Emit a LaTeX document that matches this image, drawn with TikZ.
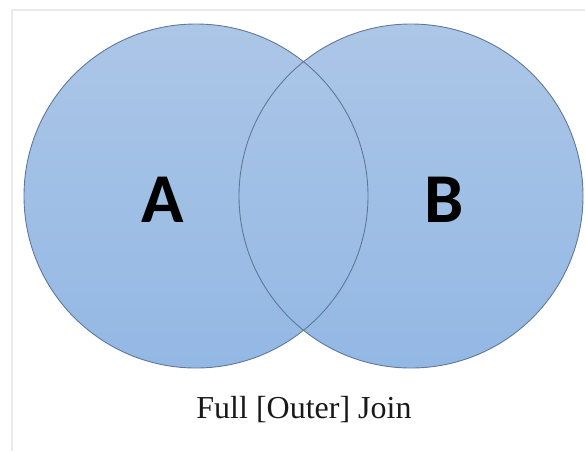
\documentclass[tikz,border=0pt]{standalone}
\usepackage{fontspec}
\setmainfont{Liberation Serif}
\newfontfamily\labelfont{Carlito}
\definecolor{setfilltop}{RGB}{172,198,231}
\definecolor{setfillbot}{RGB}{147,184,228}
\definecolor{setline}{RGB}{96,120,150}
\definecolor{frameline}{RGB}{234,234,234}
\usetikzlibrary{positioning}

\begin{document}
\begin{tikzpicture}[
    x=1pt, y=-1pt,
    setlabel/.style={font=\labelfont\bfseries\fontsize{70}{70}\selectfont,
                     text=black, inner sep=0pt},
    caption/.style={font=\fontsize{32}{36}\selectfont, text=black!90,
                    inner sep=0pt},
    frame/.style={draw=frameline, line width=1.5pt}
  ]
    \useasboundingbox (0,0) rectangle (585,451);
    % Frame
    \coordinate (fl) at (12,451);
    \coordinate (fc) at (12,10);
    \coordinate (fr) at (585,10);
    \draw[frame] (fl) -- (fc) -- (fr);
    % Sets
    \coordinate (cA) at (196,196);
    \coordinate (cB) at (411,196);
    \shade[top color=setfilltop, bottom color=setfillbot]
      (cA) circle (172) (cB) circle (172);
    \draw[setline, line width=0.9pt] (cA) circle (172);
    \draw[setline, line width=0.9pt] (cB) circle (172);
    % Labels
    \node[setlabel] (lA) at (163,200) {A};
    \node[setlabel] (lB) at (444,200) {B};
    \node[caption] (cap) at (304,410) {Full [Outer] Join};
\end{tikzpicture}
\end{document}
